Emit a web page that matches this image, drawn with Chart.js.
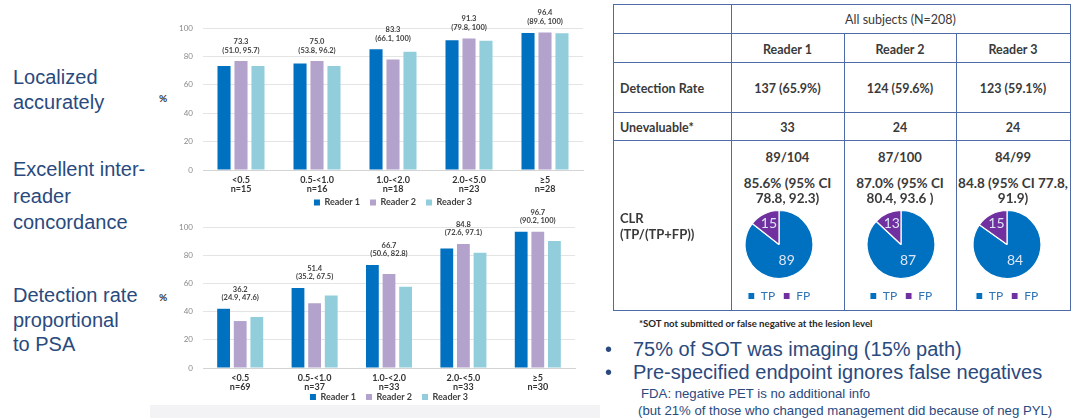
<!DOCTYPE html>
<html>
<head>
<meta charset="utf-8">
<script src="https://cdn.jsdelivr.net/npm/chart.js@4.4.1/dist/chart.umd.min.js"></script>
<style>
  html, body { margin: 0; padding: 0; background: #ffffff; }
  #slide { position: relative; width: 1075px; height: 418px; overflow: hidden; background: #ffffff; }
  canvas { position: absolute; }
  .t { position: absolute; white-space: nowrap; }
  .c { transform: translate(-50%, -50%); text-align: center; }
  .l { transform: translate(0, -50%); }
  .side { position: absolute; left: 13px; font-family: "Liberation Sans", Arial, sans-serif; font-size: 20px; color: #2A4A7E; }
  .tbl { font-family: Lato, "Open Sans", sans-serif; font-weight: bold; color: #3A3A3A; }
  .hl { position: absolute; height: 1px; background: #4E6BA6; }
  .vl { position: absolute; width: 1px; background: #4E6BA6; }
</style>
</head>
<body>
<div id="slide">
  <div class="side" style="top:65px; line-height:25px;">Localized<br>accurately</div>
  <div class="side" style="top:156px; line-height:26.5px;">Excellent inter-<br>reader<br>concordance</div>
  <div class="side" style="top:283px; line-height:24.5px;">Detection rate<br>proportional<br>to PSA</div>

  <div class="t c" style="left:163px; top:98px; font:bold 10px Lato, sans-serif; color:#333;">%</div>
  <div class="t c" style="left:163px; top:297px; font:bold 10px Lato, sans-serif; color:#333;">%</div>

  <div style="position:absolute; left:150px; top:405px; width:450px; height:13px; background:#f3f3f5;"></div>

  <canvas id="barTop" width="450" height="223" style="left:150px; top:0px;"></canvas>
  <canvas id="barBottom" width="450" height="221" style="left:150px; top:200px;"></canvas>

  <div id="table"></div>

  <canvas id="pie0" width="100" height="112" style="left:729px; top:200px;"></canvas>
  <canvas id="pie1" width="100" height="112" style="left:851px; top:200px;"></canvas>
  <canvas id="pie2" width="100" height="112" style="left:957px; top:200px;"></canvas>

  <div class="t l" style="left:639px; top:323px; font:bold 9.6px Lato, sans-serif; color:#262626;">*SOT not submitted or false negative at the lesion level</div>
  <div class="t l" style="left:605px; top:349px; font:20px 'Liberation Sans', Arial, sans-serif; color:#2A4A7E;">•</div>
  <div class="t l" style="left:633px; top:349px; font:20px 'Liberation Sans', Arial, sans-serif; color:#2A4A7E;">75% of SOT was imaging (15% path)</div>
  <div class="t l" style="left:605px; top:372px; font:20px 'Liberation Sans', Arial, sans-serif; color:#2A4A7E;">•</div>
  <div class="t l" style="left:633px; top:372px; font:20px 'Liberation Sans', Arial, sans-serif; color:#2A4A7E;">Pre-specified endpoint ignores false negatives</div>
  <div class="t l" style="left:641px; top:393px; font:13.2px 'Liberation Sans', Arial, sans-serif; color:#2A4A7E;">FDA: negative PET is no additional info</div>
  <div class="t l" style="left:638px; top:410px; font:13.2px 'Liberation Sans', Arial, sans-serif; color:#2A4A7E;">(but 21% of those who changed management did because of neg PYL)</div>
</div>

<script>
// ---------------- DATA ----------------
const seriesNames = ['Reader 1', 'Reader 2', 'Reader 3'];
const seriesColors = ['#0070C0', '#B3A2CB', '#92CDDC'];

// Top chart: localized accurately, by PSA
const topCategories = [['<0.5', 'n=15'], ['0.5-<1.0', 'n=16'], ['1.0-<2.0', 'n=18'], ['2.0-<5.0', 'n=23'], ['\u22655', 'n=28']];
const topReader1 = [73.3, 75.0, 85.0, 91.3, 96.4];
const topReader2 = [76.7, 76.7, 77.8, 92.6, 96.8];
const topReader3 = [73.3, 73.3, 83.3, 91.0, 96.3];
const topGroupValue = ['73.3', '75.0', '83.3', '91.3', '96.4'];
const topGroupCI = ['(51.0, 95.7)', '(53.8, 96.2)', '(66.1, 100)', '(79.8, 100)', '(89.6, 100)'];

// Bottom chart: detection rate, by PSA
const botCategories = [['<0.5', 'n=69'], ['0.5-<1.0', 'n=37'], ['1.0-<2.0', 'n=33'], ['2.0-<5.0', 'n=33'], ['\u22655', 'n=30']];
const botReader1 = [42.0, 56.8, 73.0, 84.8, 96.7];
const botReader2 = [33.3, 45.9, 66.7, 87.9, 96.7];
const botReader3 = [36.2, 51.4, 57.6, 81.8, 90.0];
const botGroupValue = ['36.2', '51.4', '66.7', '84.8', '96.7'];
const botGroupCI = ['(24.9, 47.6)', '(35.2, 67.5)', '(50.6, 82.8)', '(72.6, 97.1)', '(90.2, 100)'];

const yTickStep = 20;

// Table
const tableHeader = 'All subjects (N=208)';
const detectionRate = ['137 (65.9%)', '124 (59.6%)', '123 (59.1%)'];
const unevaluable = ['33', '24', '24'];
const clrFraction = ['89/104', '87/100', '84/99'];
const clrLine1 = ['85.6% (95% CI', '87.0% (95% CI', '84.8 (95% CI 77.8,'];
const clrLine2 = ['78.8, 92.3)', '80.4, 93.6 )', '91.9)'];
const pieLabels = ['TP', 'FP'];
const pieColors = ['#0070C0', '#7030A0'];
const pieTP = [89, 87, 84];
const pieFP = [15, 13, 15];

// ---------------- TABLE ----------------
(function buildTable() {
  const root = document.getElementById('slide');
  const xs = [613, 731, 844, 956, 1070];
  const ys = [4, 33, 62, 112, 140, 310];
  function add(cls, style, text) {
    const d = document.createElement('div');
    d.className = cls;
    d.setAttribute('style', style);
    if (text !== undefined) d.textContent = text;
    root.appendChild(d);
  }
  ys.forEach(y => add('hl', `left:${xs[0]}px; top:${y}px; width:${xs[4] - xs[0] + 1}px;`));
  add('vl', `left:${xs[0]}px; top:${ys[0]}px; height:${ys[5] - ys[0]}px;`);
  add('vl', `left:${xs[1]}px; top:${ys[0]}px; height:${ys[5] - ys[0]}px;`);
  add('vl', `left:${xs[4]}px; top:${ys[0]}px; height:${ys[5] - ys[0]}px;`);
  add('vl', `left:${xs[2]}px; top:${ys[1]}px; height:${ys[5] - ys[1]}px;`);
  add('vl', `left:${xs[3]}px; top:${ys[1]}px; height:${ys[5] - ys[1]}px;`);

  const cx = [(xs[1] + xs[2]) / 2, (xs[2] + xs[3]) / 2, (xs[3] + xs[4]) / 2];
  add('t c tbl', `left:${(xs[1] + xs[4]) / 2}px; top:19px; font-size:12.5px; font-weight:normal;`, tableHeader);
  seriesNames.forEach((n, i) => add('t c tbl', `left:${cx[i]}px; top:49px; font-size:12.5px;`, n));
  add('t l tbl', `left:620px; top:88px; font-size:12.5px;`, 'Detection Rate');
  add('t l tbl', `left:620px; top:127px; font-size:12.5px;`, 'Unevaluable*');
  add('t l tbl', `left:620px; top:218px; font-size:13px;`, 'CLR');
  add('t l tbl', `left:620px; top:234px; font-size:13px;`, '(TP/(TP+FP))');
  detectionRate.forEach((v, i) => add('t c tbl', `left:${cx[i]}px; top:88px; font-size:12.5px;`, v));
  unevaluable.forEach((v, i) => add('t c tbl', `left:${cx[i]}px; top:127px; font-size:12.5px;`, v));
  clrFraction.forEach((v, i) => add('t c tbl', `left:${cx[i]}px; top:157px; font-size:13px;`, v));
  clrLine1.forEach((v, i) => add('t c tbl', `left:${cx[i]}px; top:183px; font-size:13.5px;`, v));
  clrLine2.forEach((v, i) => add('t c tbl', `left:${cx[i]}px; top:198px; font-size:13.5px;`, v));
})();

// ---------------- BAR CHARTS ----------------
const groupLabelPlugin = {
  id: 'groupLabels',
  afterLayout(chart, args, opts) {
    // pull the legend up closer to the category labels
    const lg = chart.legend;
    if (lg && opts.legendShift) { lg.top -= opts.legendShift; lg.bottom -= opts.legendShift; }
  },
  afterDatasetsDraw(chart, args, opts) {
    const ctx = chart.ctx;
    const xScale = chart.scales.x;
    ctx.save();
    ctx.font = 'bold 7.5px Lato, sans-serif';
    ctx.fillStyle = '#404040';
    ctx.textAlign = 'center';
    ctx.textBaseline = 'middle';
    opts.values.forEach((v, i) => {
      let top = Infinity;
      chart.data.datasets.forEach((ds, d) => {
        const el = chart.getDatasetMeta(d).data[i];
        if (el) top = Math.min(top, el.y);
      });
      const x = xScale.getPixelForValue(i);
      ctx.fillText(opts.cis[i], x, top - 11);
      ctx.fillText(v, x, top - 19.5);
    });
    ctx.restore();
  }
};

function makeBar(id, cats, r1, r2, r3, vals, cis, layout) {
  const data = [r1, r2, r3];
  new Chart(document.getElementById(id), {
    type: 'bar',
    data: {
      labels: cats,
      datasets: seriesNames.map((n, i) => ({
        label: n,
        data: data[i],
        backgroundColor: seriesColors[i],
        borderWidth: 0,
        categoryPercentage: 0.67,
        barPercentage: 0.77
      }))
    },
    options: {
      responsive: false,
      animation: false,
      layout: { padding: { top: layout.top, right: layout.right, left: 0, bottom: 0 } },
      plugins: {
        tooltip: { enabled: false },
        legend: {
          position: 'bottom',
          fullSize: false,
          labels: {
            boxWidth: 6, boxHeight: 6, padding: 10,
            color: '#404040',
            font: { family: 'Lato', size: 9, weight: 'bold' }
          }
        },
        groupLabels: { values: vals, cis: cis, legendShift: layout.legendShift }
      },
      scales: {
        x: {
          grid: { display: false, drawTicks: false },
          border: { display: true, color: '#d4d4d4' },
          ticks: {
            padding: 6,
            color: '#333333',
            font: { family: 'Lato', size: 9, weight: 'bold', lineHeight: 1.0 },
            maxRotation: 0, autoSkip: false
          },
          afterFit(s) { s.height = 24; }
        },
        y: {
          min: 0, max: 100,
          ticks: { stepSize: yTickStep, padding: 10, color: '#8a8a8a', font: { family: 'Lato', size: 8 } },
          grid: { color: '#e4e4e4', drawTicks: false },
          border: { display: false },
          afterFit(s) { s.width = 53; }
        }
      }
    },
    plugins: [groupLabelPlugin]
  });
}

makeBar('barTop', topCategories, topReader1, topReader2, topReader3, topGroupValue, topGroupCI,
  { top: 28, right: 17, legendShift: 6 });
makeBar('barBottom', botCategories, botReader1, botReader2, botReader3, botGroupValue, botGroupCI,
  { top: 27, right: 25, legendShift: 9.5 });

// ---------------- PIE CHARTS ----------------
const pieLabelPlugin = {
  id: 'pieValues',
  afterDatasetsDraw(chart) {
    const ctx = chart.ctx;
    const meta = chart.getDatasetMeta(0);
    const values = chart.data.datasets[0].data;
    const total = values.reduce((a, b) => a + b, 0);
    ctx.save();
    ctx.font = '14px Lato, sans-serif';
    ctx.fillStyle = '#DCE6F4';
    ctx.textAlign = 'center';
    ctx.textBaseline = 'middle';
    meta.data.forEach((arc, i) => {
      const p = arc.getProps(['x', 'y', 'startAngle', 'endAngle', 'outerRadius'], true);
      const mid = (p.startAngle + p.endAngle) / 2;
      const r = p.outerRadius * (values[i] / total < 0.5 ? 0.68 : 0.52);
      ctx.fillText(String(values[i]), p.x + Math.cos(mid) * r, p.y + Math.sin(mid) * r);
    });
    ctx.restore();
  }
};

pieTP.forEach((tp, i) => {
  new Chart(document.getElementById('pie' + i), {
    type: 'pie',
    data: {
      labels: pieLabels,
      datasets: [{
        data: [tp, pieFP[i]],
        backgroundColor: pieColors,
        borderColor: '#ffffff',
        borderWidth: 1.2,
        radius: 34
      }]
    },
    options: {
      responsive: false,
      animation: false,
      layout: { padding: { top: 7, bottom: 0, left: 0, right: 0 } },
      plugins: {
        tooltip: { enabled: false },
        legend: {
          position: 'bottom',
          labels: {
            boxWidth: 7, boxHeight: 7, padding: 8,
            color: '#2E75B6',
            font: { family: 'Lato', size: 12 }
          }
        }
      }
    },
    plugins: [pieLabelPlugin]
  });
});
</script>
</body>
</html>
